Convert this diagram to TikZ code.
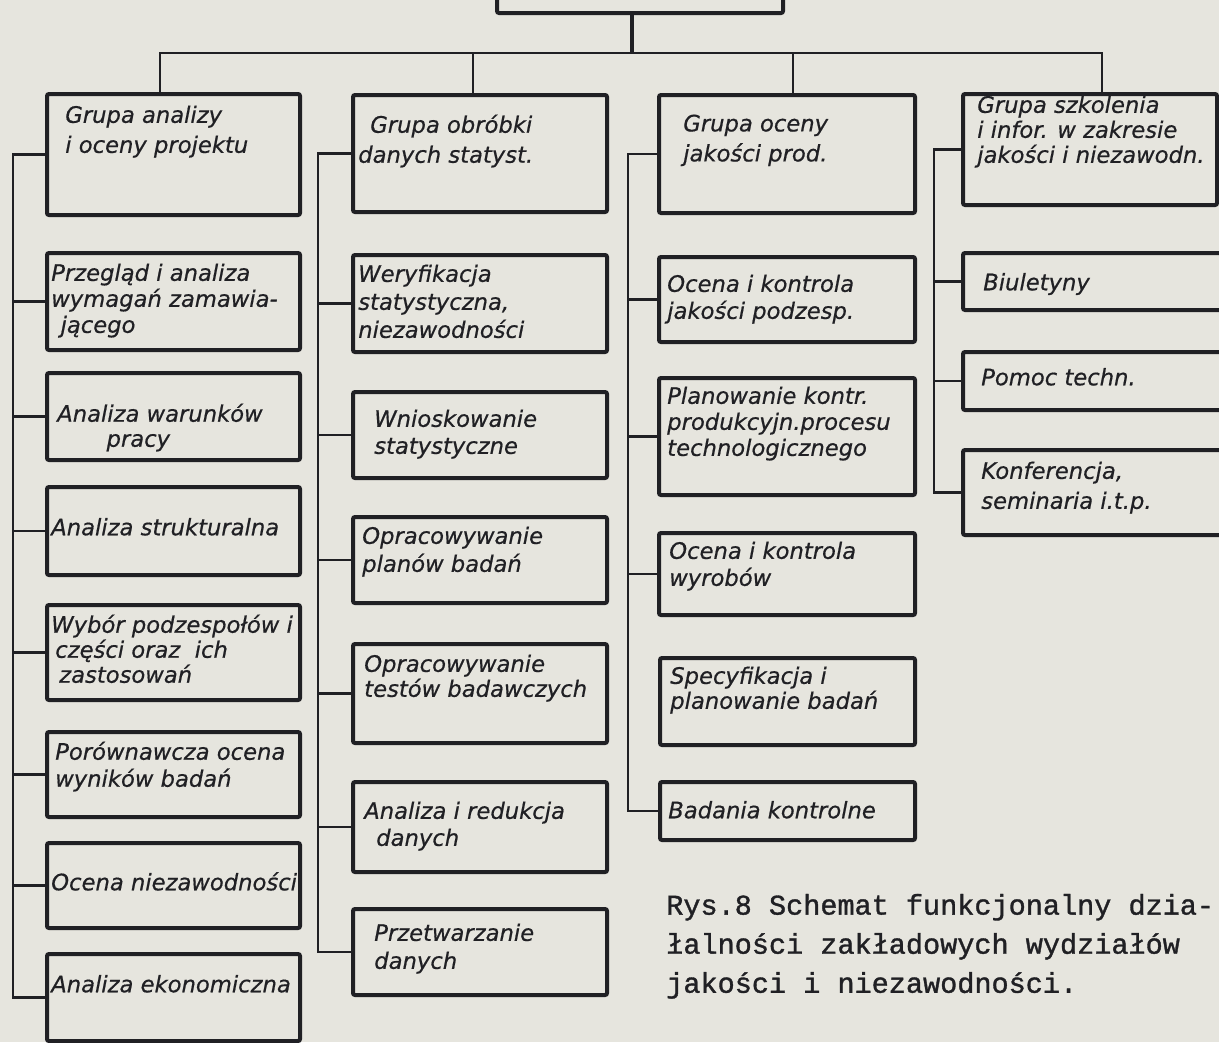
\documentclass[tikz,border=0pt]{standalone}
\usepackage{fontspec}
\usetikzlibrary{fit}
\newfontfamily\hand[FakeBold=0.6]{DejaVu Sans}
\newfontfamily\typewriter[FakeBold=1.2]{Liberation Mono}
\definecolor{paper}{RGB}{230,229,222}
\definecolor{ink}{RGB}{32,32,36}

\tikzset{
  panel/.style={draw=ink, line width=3pt, rounded corners=1.5pt, inner sep=0pt},
  wire/.style={draw=ink, line width=1.8pt},
  bus/.style={draw=ink, line width=1.6pt},
  trunk/.style={draw=ink, line width=3.6pt},
  lbl/.style={anchor=north west, inner sep=0pt, align=left, text=ink, yshift=14pt,
    font=\hand\itshape\fontsize{17pt}{#1}\selectfont,
    execute at begin node=\rule{0pt}{14pt}},
  lbl/.default=20pt,
  capt/.style={anchor=north west, inner sep=0pt, align=left, text=ink, yshift=16pt,
    font=\typewriter\fontsize{21.4pt}{29.3pt}\selectfont,
    execute at begin node=\rule{0pt}{16pt}},
}

\begin{document}
\begin{tikzpicture}[x=0.75pt, y=-0.75pt]
\useasboundingbox (0,0) rectangle (1219,1042);
\fill[paper] (0,0) rectangle (1219,1042);
\clip (0,0) rectangle (1219,1042);

% head office box (cut by the top edge)
\node[panel, fit={(497,-40)(783,13)}] (top) {};

% ---- column 1: design analysis ----
\node[panel, fit={(47,94)(300,215)}] (a1) {};
\node[lbl=22.5pt] (a1t) at (65,124) {Grupa analizy\\i oceny projektu};
\node[panel, fit={(47,253)(300,350)}] (a2) {};
\node[lbl=19.5pt] (a2t) at (51,282) {Przegląd i analiza\\wymagań zamawia-\\\hspace*{7pt}jącego};
\node[panel, fit={(47,373)(300,460)}] (a3) {};
\node[lbl=18.75pt] (a3t) at (57,422) {Analiza warunków\\\hspace*{37pt}pracy};
\node[panel, fit={(47,487)(300,575)}] (a4) {};
\node[lbl] (a4t) at (51,535) {Analiza strukturalna};
\node[panel, fit={(47,605)(300,700)}] (a5) {};
\node[lbl=18.75pt] (a5t) at (51,633) {Wybór podzespołów i\\\hspace*{3pt}części oraz\ \ ich\\\hspace*{6pt}zastosowań};
\node[panel, fit={(47,732)(300,817)}] (a6) {};
\node[lbl=20.25pt] (a6t) at (55,760) {Porównawcza ocena\\wyników badań};
\node[panel, fit={(47,843)(300,928)}] (a7) {};
\node[lbl] (a7t) at (51,890) {Ocena niezawodności};
\node[panel, fit={(47,954)(300,1041)}] (a8) {};
\node[lbl] (a8t) at (51,992) {Analiza ekonomiczna};

% ---- column 2: statistical data processing ----
\node[panel, fit={(353,95)(607,212)}] (b1) {};
\node[lbl=22.5pt] (b1t) at (358,133) {\hspace*{9pt}Grupa obróbki\\danych statyst.};
\node[panel, fit={(353,255)(607,352)}] (b2) {};
\node[lbl=21pt] (b2t) at (358,283) {Weryfikacja\\statystyczna,\\niezawodności};
\node[panel, fit={(353,392)(607,478)}] (b3) {};
\node[lbl=20.25pt] (b3t) at (374,428) {Wnioskowanie\\statystyczne};
\node[panel, fit={(353,517)(607,603)}] (b4) {};
\node[lbl=21pt] (b4t) at (362,545) {Opracowywanie\\planów badań};
\node[panel, fit={(353,644)(607,743)}] (b5) {};
\node[lbl=18.75pt] (b5t) at (364,673) {Opracowywanie\\testów badawczych};
\node[panel, fit={(353,782)(607,872)}] (b6) {};
\node[lbl=20.25pt] (b6t) at (364,820) {Analiza i redukcja\\\hspace*{9pt}danych};
\node[panel, fit={(353,909)(607,995)}] (b7) {};
\node[lbl=21pt] (b7t) at (374,942) {Przetwarzanie\\danych};

% ---- column 3: product quality ----
\node[panel, fit={(659,95)(915,213)}] (c1) {};
\node[lbl=22.5pt] (c1t) at (683,133) {Grupa oceny\\jakości prod.};
\node[panel, fit={(659,257)(915,342)}] (c2) {};
\node[lbl=20.25pt] (c2t) at (667,293) {Ocena i kontrola\\jakości podzesp.};
\node[panel, fit={(659,378)(915,495)}] (c3) {};
\node[lbl=19.5pt] (c3t) at (667,405) {Planowanie kontr.\\produkcyjn.procesu\\technologicznego};
\node[panel, fit={(659,533)(915,615)}] (c4) {};
\node[lbl=20.25pt] (c4t) at (669,560) {Ocena i kontrola\\wyrobów};
\node[panel, fit={(660,658)(915,745)}] (c5) {};
\node[lbl=18.75pt] (c5t) at (670,685) {Specyfikacja i\\planowanie badań};
\node[panel, fit={(660,782)(915,840)}] (c6) {};
\node[lbl] (c6t) at (668,818) {Badania kontrolne};

% ---- column 4: training and information ----
\node[panel, fit={(963,94)(1217,205)}] (d1) {};
\node[lbl=18.75pt] (d1t) at (977,114) {Grupa szkolenia\\i infor. w zakresie\\jakości i niezawodn.};
\node[panel, fit={(963,253)(1222,310)}] (d2) {};
\node[lbl] (d2t) at (983,290) {Biuletyny};
\node[panel, fit={(963,352)(1222,410)}] (d3) {};
\node[lbl] (d3t) at (981,385) {Pomoc techn.};
\node[panel, fit={(963,450)(1222,535)}] (d4) {};
\node[lbl=22.5pt] (d4t) at (981,480) {Konferencja,\\seminaria i.t.p.};

% ---- top distribution ----
\coordinate (hub) at (632,53);
\coordinate (busL) at (160,53);
\coordinate (busR) at (1102,53);
\coordinate (dropB) at (473,53);
\coordinate (dropC) at (793,53);
\draw[trunk] (hub |- top.south) -- (hub);
\draw[bus] (busL |- a1.north) -- (busL) -- (busR) -- (busR |- d1.north);
\draw[bus] (dropB) -- (dropB |- b1.north);
\draw[bus] (dropC) -- (dropC |- c1.north);

% ---- column spines ----
\coordinate (spineA) at (13,0);
\coordinate (spineB) at (318,0);
\coordinate (spineC) at (628,0);
\coordinate (spineD) at (934,0);

\draw[wire] (a1.west) -- (a1.west -| spineA) -- (a8.west -| spineA) -- (a8.west);
\foreach \i in {2,...,7} \draw[wire] (a\i.west) -- (a\i.west -| spineA);

\draw[wire] (b1.west) -- (b1.west -| spineB) -- (b7.west -| spineB) -- (b7.west);
\foreach \i in {2,...,6} \draw[wire] (b\i.west) -- (b\i.west -| spineB);

\draw[wire] (c1.west) -- (c1.west -| spineC) -- (c6.west -| spineC) -- (c6.west);
\foreach \i in {2,3,4} \draw[wire] (c\i.west) -- (c\i.west -| spineC);

\draw[wire] (d1.west) -- (d1.west -| spineD) -- (d4.west -| spineD) -- (d4.west);
\foreach \i in {2,3} \draw[wire] (d\i.west) -- (d\i.west -| spineD);

% ---- caption ----
\node[capt] (caption) at (666,915) {Rys.8 Schemat funkcjonalny dzia-\\łalności zakładowych wydziałów\\jakości i niezawodności.};
\end{tikzpicture}
\end{document}
